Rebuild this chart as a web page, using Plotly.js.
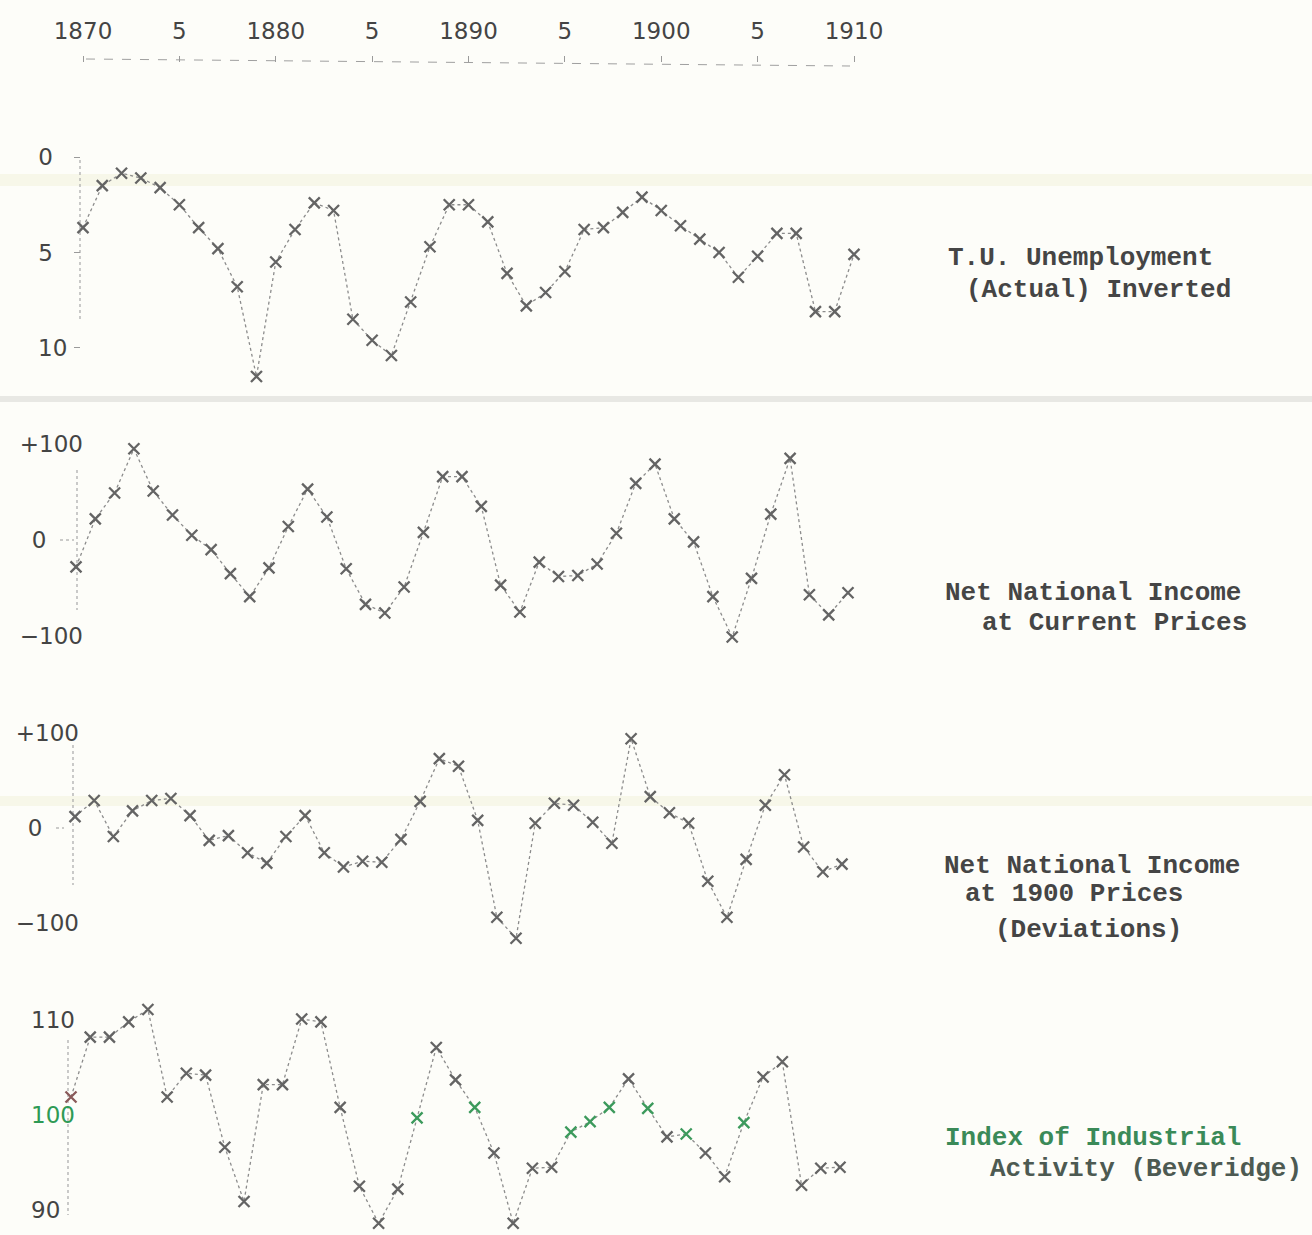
<!DOCTYPE html>
<html>
<head>
<meta charset="utf-8">
<script src="https://cdn.plot.ly/plotly-3.0.1.min.js"></script>
<style>
  html, body { margin: 0; padding: 0; background: #fdfdf9; }
  #chart { width: 1312px; height: 1235px; }
</style>
</head>
<body>
<div id="chart"></div>
<script>
// ---- Data ----
const years = [1870,1871,1872,1873,1874,1875,1876,1877,1878,1879,
               1880,1881,1882,1883,1884,1885,1886,1887,1888,1889,
               1890,1891,1892,1893,1894,1895,1896,1897,1898,1899,
               1900,1901,1902,1903,1904,1905,1906,1907,1908,1909,
               1910];

// T.U. Unemployment (actual, %), plotted inverted
const unemployment = [3.7,1.5,0.85,1.1,1.6,2.5,3.7,4.8,6.8,11.5,
                      5.5,3.8,2.4,2.8,8.5,9.6,10.4,7.6,4.7,2.5,
                      2.5,3.4,6.1,7.8,7.1,6.0,3.8,3.7,2.9,2.1,
                      2.8,3.6,4.3,5.0,6.3,5.2,4.0,4.0,8.1,8.1,
                      5.1];

// Net National Income at current prices (deviations)
const incomeCurrent = [-28,22,49,95,51,26,5,-10,-35,-59,
                       -29,14,53,24,-30,-67,-76,-49,8,66,
                       66,35,-47,-75,-23,-38,-37,-25,7,59,
                       79,22,-2,-59,-101,-40,27,85,-57,-78,
                       -55];

// Net National Income at 1900 prices (deviations)
const income1900 = [12,29,-9,18,29,31,13,-13,-8,-26,
                    -37,-9,13,-26,-41,-35,-36,-12,28,73,
                    65,8,-94,-116,5,26,24,6,-16,94,
                    33,16,5,-56,-94,-33,24,56,-20,-46,
                    -38];

// Index of Industrial Activity (Beveridge)
const industry = [101.9,108.2,108.2,109.8,111.1,101.9,104.4,104.2,96.6,90.9,
                  103.2,103.2,110.1,109.8,100.8,92.5,88.6,92.2,99.7,107.1,
                  103.7,100.8,96.0,88.6,94.4,94.5,98.2,99.3,100.8,103.8,
                  100.7,97.7,98.0,96.0,93.5,99.2,104.0,105.6,92.6,94.4,
                  94.5];

const xTickVals = [1870,1875,1880,1885,1890,1895,1900,1905,1910];
const xTickText = ['1870','5','1880','5','1890','5','1900','5','1910'];

const y1TickVals = [0, 5, 10];
const y1TickText = ['0', '5', '10'];
const devTickVals = [-100, 0, 100];
const devTickText = ['\u2212100', '0', '+100'];
const y4TickVals = [90, 100, 110];
const y4TickText = ['90', '100', '110'];

const labels1 = ['T.U. Unemployment', '(Actual) Inverted'];
const labels2 = ['Net National Income', 'at Current Prices'];
const labels3 = ['Net National Income', 'at 1900 Prices', '(Deviations)'];
const labels4 = ['Index of Industrial', 'Activity (Beveridge)'];

// ---- Style helpers ----
const W = 1312, H = 1235;
const px = v => v / W;
const py = v => 1 - v / H;
const GRAY = '#646464';
const GREEN = '#3c9a5c';
const tickFont = {family: 'DejaVu Sans, sans-serif', size: 23, color: '#444444'};
const typeFont = {family: 'Liberation Mono, Courier New, monospace', size: 26, color: '#454545', weight: 'bold'};
const NB = '\u00a0';
// typed labels in the original are not right-aligned; pad some of them
const pad = (labels, n) => labels.map((t, i) => t + NB.repeat(n[i]));

function series(x, y, xa, ya, markerColors) {
  return {
    x: x, y: y, xaxis: xa, yaxis: ya,
    type: 'scatter', mode: 'lines+markers', cliponaxis: false,
    hoverinfo: 'x+y',
    line: {color: '#8c8c8c', width: 1.3, dash: 'dot'},
    marker: {symbol: 'x-thin-open', size: 11,
             color: markerColors || GRAY,
             line: {width: 2.3, color: markerColors || GRAY}}
  };
}

const indColors = years.map(y => {
  if (y === 1870) return '#8a5a5a';
  if ([1888,1891,1896,1897,1898,1900,1902,1905].includes(y)) return GREEN;
  return GRAY;
});

const traces = [
  series(years, unemployment, 'x', 'y'),
  series(years, incomeCurrent, 'x2', 'y2'),
  series(years, income1900, 'x3', 'y3'),
  series(years, industry, 'x4', 'y4', indColors)
];

function yAxis(domain, range, pos, vals, text, withTicks, standoff) {
  return {
    domain: domain, range: range, anchor: 'free', position: pos,
    tickmode: 'array', tickvals: vals, ticktext: text,
    ticks: withTicks ? 'outside' : '', ticklen: 6, tickcolor: '#9a9a9a', tickwidth: 1,
    ticklabelstandoff: standoff,
    showline: false, showgrid: false, zeroline: false,
    tickfont: tickFont, fixedrange: true
  };
}
function hiddenX(domain, anchor) {
  return {domain: domain, range: [1870, 1910], anchor: anchor,
          visible: false, showgrid: false, zeroline: false, fixedrange: true};
}

function textLines(lines, lefts, ys, color) {
  return lines.map((t, i) => ({
    text: t, xref: 'paper', yref: 'paper',
    x: px(lefts[i]), y: py(ys[i]), xanchor: 'left', yanchor: 'middle',
    showarrow: false,
    font: Object.assign({}, typeFont, color && color[i] ? {color: color[i]} : {})
  }));
}

const annotations = [].concat(
  textLines(labels1, [946, 964], [258, 290]),
  textLines(labels2, [943, 980], [593, 623]),
  textLines(labels3, [942, 963, 993], [866, 894, 930]),
  textLines(labels4, [943, 988], [1138, 1169], ['#3a8a58', '#4d5a52'])
);

function vdot(x, y0, y1) {
  return {type: 'line', xref: 'paper', yref: 'paper',
          x0: px(x), x1: px(x), y0: py(y0), y1: py(y1),
          line: {color: '#a8a8a8', width: 1.2, dash: 'dot'}, layer: 'below'};
}
function hdash(x0, x1, y) {
  return {type: 'line', xref: 'paper', yref: 'paper',
          x0: px(x0), x1: px(x1), y0: py(y), y1: py(y),
          line: {color: '#9a9a9a', width: 1.2, dash: 'dot'}, layer: 'below'};
}
function band(y0, y1, color) {
  return {type: 'rect', xref: 'paper', yref: 'paper', x0: 0, x1: 1,
          y0: py(y1), y1: py(y0), fillcolor: color, line: {width: 0}, layer: 'below'};
}

const shapes = [
  band(174, 186, '#f7f7e9'),
  band(396, 402, '#e8e8e4'),
  band(796, 806, '#f7f7e9'),
  {type: 'line', xref: 'paper', yref: 'paper',
   x0: px(86), x1: px(850), y0: py(59), y1: py(66),
   line: {color: '#a0a0a0', width: 1, dash: 'dash'}, layer: 'below'},
  vdot(80, 160, 320),
  vdot(77, 470, 610),
  vdot(73, 745, 885),
  vdot(68, 1040, 1215),
  hdash(60, 74, 540),
  hdash(56, 64, 828)
];

const layout = {
  width: W, height: H,
  margin: {l: 0, r: 0, t: 0, b: 0},
  paper_bgcolor: '#fdfdf9', plot_bgcolor: 'rgba(0,0,0,0)',
  showlegend: false,
  font: tickFont,
  xaxis: {
    domain: [px(83), px(854)], range: [1870, 1910],
    anchor: 'free', position: py(62), side: 'top',
    tickmode: 'array', tickvals: xTickVals, ticktext: xTickText,
    ticks: 'outside', ticklen: 6, tickcolor: '#9a9a9a',
    ticklabelstandoff: 8,
    showline: false, showgrid: false, zeroline: false,
    tickfont: tickFont, fixedrange: true
  },
  xaxis2: hiddenX([px(76), px(848)], 'y2'),
  xaxis3: hiddenX([px(75), px(842)], 'y3'),
  xaxis4: hiddenX([px(71), px(840)], 'y4'),
  yaxis: yAxis([py(386), py(147.5)], [12, -0.5], px(80), y1TickVals,
               pad(y1TickText, [2, 2, 0]), true, 2),
  yaxis2: yAxis([py(645.6), py(439.2)], [-110, 105], px(83), devTickVals,
                pad(devTickText, [0, 5, 0]), false, 0),
  yaxis3: yAxis([py(946.75), py(725.4)], [-125, 108], px(79), devTickVals,
                pad(devTickText, [0, 5, 0]), false, 0),
  yaxis4: yAxis([py(1233.75), py(1001)], [87.5, 112], px(75), y4TickVals,
                pad(y4TickText, [2, 0, 0]).map(t => t.startsWith('100') ? '<span style="color:#2e9a55">' + t + '</span>' : t),
                false, 0),
  annotations: annotations,
  shapes: shapes
};

Plotly.newPlot('chart', traces, layout, {displayModeBar: false, staticPlot: true});
</script>
</body>
</html>
